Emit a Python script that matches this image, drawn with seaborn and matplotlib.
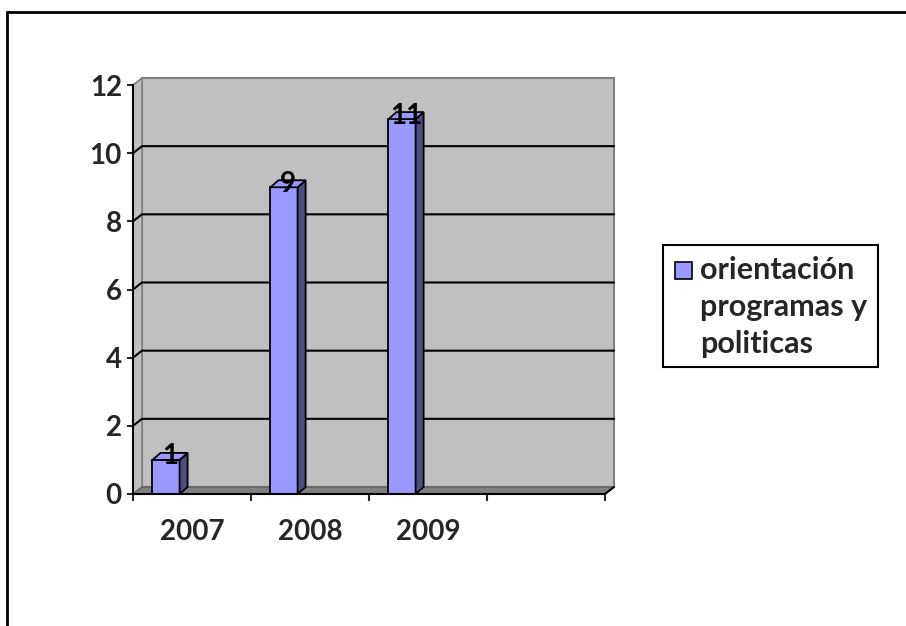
import matplotlib
matplotlib.use("Agg")
import matplotlib.pyplot as plt
from matplotlib.patches import Polygon, Rectangle
import seaborn as sns

years = ["2007", "2008", "2009"]
counts = [1, 9, 11]
series_name = "orientación\nprogramas y\npoliticas"
y_ticks = [0, 2, 4, 6, 8, 10, 12]

BAR = "#9999FF"
SIDE = "#4D4D80"
WALL = "#C0C0C0"

sns.set_style("white")
plt.rcParams["font.family"] = ["Lato", "DejaVu Sans"]

W, H = 906, 626
fig = plt.figure(figsize=(W / 100, H / 100), dpi=100)
# axes box in pixels: x 133..605, y 85..494
ax = fig.add_axes([133 / W, 1 - 494 / H, (605 - 133) / W, (494 - 85) / H])
ax.set_facecolor("none")

sns.barplot(x=years, y=counts, color=BAR, saturation=1, width=0.23,
            edgecolor="black", linewidth=1.3, ax=ax)
bars = list(ax.patches)

x0, x1 = -0.5, 3.5
ax.set_xlim(x0, x1)
ax.set_ylim(0, 12)

# pixel -> data conversion for the 3d depth
px = 4 / (605 - 133)
py = 12 / (494 - 85)
wdx, wdy = 9 * px, 7 * py
bdx, bdy = 8 * px, 7 * py

# back wall, side wall, floor
ax.add_patch(Polygon([(x0 + wdx, wdy), (x1 + wdx, wdy), (x1 + wdx, 12 + wdy),
                      (x0 + wdx, 12 + wdy)], closed=True, facecolor=WALL,
                     edgecolor="#808080", lw=1.5, zorder=0.3, clip_on=False))
ax.add_patch(Polygon([(x0, 0), (x0 + wdx, wdy), (x0 + wdx, 12 + wdy), (x0, 12)],
                     closed=True, facecolor=WALL, edgecolor="#808080", lw=1.2,
                     zorder=0.3, clip_on=False))
ax.add_patch(Polygon([(x0, 0), (x1, 0), (x1 + wdx, wdy), (x0 + wdx, wdy)],
                     closed=True, facecolor="#808080", edgecolor="#606060", lw=1,
                     zorder=0.35, clip_on=False))
ax.plot([x1, x1 + wdx], [0, wdy], color="black", lw=1.5, zorder=2.6, clip_on=False)

for t in y_ticks[1:-1]:
    ax.plot([x0, x0 + wdx, x1 + wdx], [t, t + wdy, t + wdy], color="black",
            lw=1.5, zorder=0.5, clip_on=False)

# shift bars back and give them depth
for bar, val in zip(bars, counts):
    bar.set_x(bar.get_x() - 0.22)
    bar.set_zorder(1)
    bx0 = bar.get_x()
    bx1 = bx0 + bar.get_width()
    ax.add_patch(Polygon([(bx1, 0), (bx1 + bdx, bdy), (bx1 + bdx, val + bdy), (bx1, val)],
                         closed=True, facecolor=SIDE, edgecolor="black", lw=1.3, zorder=1.1))
    ax.add_patch(Polygon([(bx0, val), (bx1, val), (bx1 + bdx, val + bdy), (bx0 + bdx, val + bdy)],
                         closed=True, facecolor=BAR, edgecolor="black", lw=1.3, zorder=1.1))
    ax.text((bx0 + bx1) / 2 + bdx / 2, val + bdy / 2, str(val), ha="center", va="center",
            fontsize=20, fontweight="bold", color="black", zorder=3)

# axes styling
for s in ["top", "right"]:
    ax.spines[s].set_visible(False)
for s in ["left", "bottom"]:
    ax.spines[s].set_linewidth(1.5)
    ax.spines[s].set_color("black")

ax.set_yticks(y_ticks)
ax.set_yticklabels([str(t) for t in y_ticks], fontsize=20, fontweight="bold")
ax.tick_params(axis="y", direction="out", length=4, width=1.5, pad=4, left=True)

ax.set_xticks([x0, 0.5, 1.5, 2.5, x1])
ax.set_xticklabels([])
ax.set_xticks(range(len(years)), minor=True)
ax.set_xticklabels(years, minor=True, fontsize=20, fontweight="bold")
ax.tick_params(axis="x", which="major", direction="out", length=5, width=1.5, bottom=True)
ax.tick_params(axis="x", which="minor", length=0, pad=18)
ax.set_xlabel("")
ax.set_ylabel("")

# legend box drawn by hand so the marker sits on the first line
fig.add_artist(Rectangle((663 / W, 1 - 367 / H), (878 - 663) / W, (367 - 245) / H,
                         transform=fig.transFigure, fill=False, edgecolor="black", lw=1.5))
fig.add_artist(Rectangle((675 / W, 1 - 279 / H), 17 / W, 17 / H,
                         transform=fig.transFigure, facecolor=BAR, edgecolor="black", lw=1.2))
# baseline alignment of multi-line text refers to the last line
fig.text(700 / W, 1 - 353 / H, series_name, ha="left", va="baseline", fontsize=22,
         fontweight="bold", linespacing=1.39)

# outer chart border
fig.add_artist(Rectangle((7 / W, -0.2), 1.2, 1.2 - 12 / H, transform=fig.transFigure,
                         fill=False, edgecolor="black", lw=2))

fig.savefig("out.png", dpi=100)
